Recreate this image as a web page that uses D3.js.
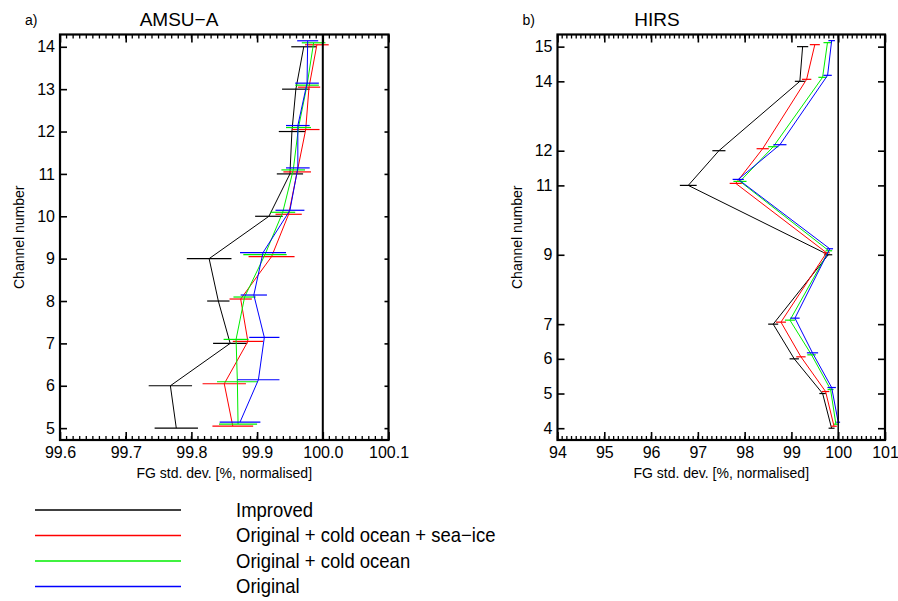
<!DOCTYPE html>
<html>
<head>
<meta charset="utf-8">
<script src="https://cdn.jsdelivr.net/npm/d3@7"></script>
<style>
  body { margin: 0; background: #fff; }
  svg { font-family: "Liberation Sans", Arial, sans-serif; }
</style>
</head>
<body>
<script>
// AMSU-A channels and FG std. dev. values (% normalised), with half-widths of error bars
var amsuChannels = [5, 6, 7, 8, 9, 10, 11, 12, 13, 14];
var amsuImproved    = [99.777, 99.768, 99.859, 99.841, 99.827, 99.918, 99.950, 99.953, 99.959, 99.971];
var amsuImprovedErr = [0.033, 0.033, 0.026, 0.017, 0.034, 0.021, 0.020, 0.020, 0.021, 0.019];
var amsuSeaIce      = [99.863, 99.850, 99.886, 99.875, 99.922, 99.948, 99.961, 99.974, 99.979, 99.991];
var amsuSeaIceErr   = [0.031, 0.033, 0.023, 0.017, 0.035, 0.020, 0.021, 0.021, 0.017, 0.018];
var amsuCold        = [99.871, 99.870, 99.868, 99.881, 99.912, 99.939, 99.955, 99.963, 99.976, 99.986];
var amsuColdErr     = [0.029, 0.031, 0.019, 0.017, 0.033, 0.019, 0.018, 0.019, 0.018, 0.018];
var amsuOriginal    = [99.874, 99.902, 99.911, 99.895, 99.909, 99.950, 99.962, 99.962, 99.976, 99.977];
var amsuOriginalErr = [0.031, 0.032, 0.023, 0.020, 0.035, 0.022, 0.018, 0.018, 0.018, 0.016];

// HIRS
var hirsChannels = [4, 5, 6, 7, 9, 11, 12, 14, 15];
var hirsImproved    = [99.858, 99.667, 99.06, 98.61, 99.787, 96.795, 97.45, 99.18, 99.239];
var hirsImprovedErr = [0.064, 0.07, 0.10, 0.107, 0.085, 0.18, 0.14, 0.107, 0.12];
var hirsSeaIce      = [99.91, 99.73, 99.203, 98.776, 99.75, 97.81, 98.385, 99.325, 99.50];
var hirsSeaIceErr   = [0.06, 0.08, 0.10, 0.107, 0.07, 0.13, 0.13, 0.10, 0.107];
var hirsCold        = [99.95, 99.837, 99.43, 98.968, 99.80, 97.90, 98.611, 99.666, 99.77];
var hirsColdErr     = [0.04, 0.064, 0.09, 0.107, 0.07, 0.14, 0.11, 0.09, 0.085];
var hirsOriginal    = [100.0, 99.86, 99.45, 99.075, 99.82, 97.863, 98.754, 99.773, 99.86];
var hirsOriginalErr = [0.04, 0.09, 0.12, 0.10, 0.07, 0.12, 0.14, 0.09, 0.07];

var seriesNames = ["Improved", "Original + cold ocean + sea\u2212ice", "Original + cold ocean", "Original"];
var seriesColors = ["#000000", "#ff0000", "#00ee00", "#0000ff"];
var seriesShift = [0, -2, -4, -6]; // small vertical offset in px so bars don't overlap

var amsuXTicks = [99.6, 99.7, 99.8, 99.9, 100.0, 100.1];
var hirsXTicks = [94, 95, 96, 97, 98, 99, 100, 101];

var svg = d3.select("body").append("svg")
    .attr("width", 898)
    .attr("height", 601);

function drawPanel(opt) {
  var x = d3.scaleLinear().domain(opt.xDomain).range([opt.left, opt.right]);
  var y = d3.scaleLinear().domain(opt.yDomain).range([opt.bottom, opt.top]);
  var g = svg.append("g");

  // data: lines then error bars
  opt.series.forEach(function(s, i) {
    var pts = opt.channels.map(function(c, j) { return {c: c, v: s.vals[j], e: s.errs[j]}; });
    var line = d3.line()
      .x(function(d) { return x(d.v); })
      .y(function(d) { return y(d.c) + seriesShift[i]; });
    g.append("path")
      .datum(pts)
      .attr("d", line)
      .attr("fill", "none")
      .attr("stroke", seriesColors[i])
      .attr("stroke-width", 1);
    g.selectAll(".err" + i)
      .data(pts)
      .enter().append("line")
      .attr("x1", function(d) { return x(d.v - d.e); })
      .attr("x2", function(d) { return x(d.v + d.e); })
      .attr("y1", function(d) { return y(d.c) + seriesShift[i]; })
      .attr("y2", function(d) { return y(d.c) + seriesShift[i]; })
      .attr("stroke", seriesColors[i])
      .attr("stroke-width", 1.2);
  });

  // reference line at 100 %
  g.append("line")
    .attr("x1", x(100)).attr("x2", x(100))
    .attr("y1", opt.top).attr("y2", opt.bottom)
    .attr("stroke", "#000")
    .attr("stroke-width", opt.refWidth);

  // minor x ticks
  var minor = d3.range(opt.xDomain[0], opt.xDomain[1] + opt.minorStep / 2, opt.minorStep);
  g.selectAll(".minb").data(minor).enter().append("line")
    .attr("x1", function(d) { return x(d); }).attr("x2", function(d) { return x(d); })
    .attr("y1", opt.bottom).attr("y2", opt.bottom - 4)
    .attr("stroke", "#000").attr("stroke-width", 1.3);
  g.selectAll(".mint").data(minor).enter().append("line")
    .attr("x1", function(d) { return x(d); }).attr("x2", function(d) { return x(d); })
    .attr("y1", opt.top).attr("y2", opt.top + 4)
    .attr("stroke", "#000").attr("stroke-width", 1.3);

  // major ticks via axes
  var xb = d3.axisBottom(x).tickValues(opt.xTicks).tickSize(-8).tickPadding(7)
    .tickFormat(opt.xFormat);
  var xa = g.append("g").attr("transform", "translate(0," + opt.bottom + ")").call(xb);
  var xt = d3.axisTop(x).tickValues(opt.xTicks).tickSize(-8).tickFormat("");
  var xa2 = g.append("g").attr("transform", "translate(0," + opt.top + ")").call(xt);

  var yl = d3.axisLeft(y).tickValues(opt.channels).tickSize(-7).tickPadding(5)
    .tickFormat(d3.format("d"));
  var ya = g.append("g").attr("transform", "translate(" + opt.left + ",0)").call(yl);
  var yr = d3.axisRight(y).tickValues(opt.channels).tickSize(-opt.rightTick).tickFormat("");
  var ya2 = g.append("g").attr("transform", "translate(" + opt.right + ",0)").call(yr);

  [xa, xa2, ya, ya2].forEach(function(a) {
    a.select(".domain").remove();
    a.selectAll(".tick line").attr("stroke", "#000").attr("stroke-width", 1.6);
    a.selectAll("text").attr("fill", "#000").attr("font-size", 16)
      .attr("font-family", "Liberation Sans, Arial, sans-serif");
  });

  // frame
  g.append("rect")
    .attr("x", opt.left).attr("y", opt.top)
    .attr("width", opt.right - opt.left).attr("height", opt.bottom - opt.top)
    .attr("fill", "none").attr("stroke", "#000").attr("stroke-width", 2.2);

  // labels
  g.append("text")
    .attr("x", (opt.left + opt.right) / 2).attr("y", 478)
    .attr("text-anchor", "middle").attr("font-size", 14)
    .text("FG std. dev. [%, normalised]");
  g.append("text")
    .attr("transform", "translate(" + (opt.left - 36) + "," + ((opt.top + opt.bottom) / 2) + ") rotate(-90)")
    .attr("text-anchor", "middle").attr("font-size", 14)
    .text("Channel number");
  g.append("text")
    .attr("x", opt.left - 35).attr("y", 25)
    .attr("font-size", 14)
    .text(opt.tag);
  g.append("text")
    .attr("x", opt.titleX).attr("y", 26)
    .attr("text-anchor", "middle").attr("font-size", 19)
    .text(opt.title);
}

drawPanel({
  left: 60, right: 388.5, top: 34.5, bottom: 440,
  xDomain: [99.6, 100.1], yDomain: [4.72, 14.29],
  xTicks: amsuXTicks, xFormat: d3.format(".1f"), minorStep: 0.01,
  channels: amsuChannels, rightTick: 4, refWidth: 2,
  tag: "a)", title: "AMSU\u2212A", titleX: 179,
  series: [
    {vals: amsuImproved, errs: amsuImprovedErr},
    {vals: amsuSeaIce, errs: amsuSeaIceErr},
    {vals: amsuCold, errs: amsuColdErr},
    {vals: amsuOriginal, errs: amsuOriginalErr}
  ]
});

drawPanel({
  left: 557.5, right: 885, top: 34.5, bottom: 440,
  xDomain: [94, 101], yDomain: [3.66, 15.35],
  xTicks: hirsXTicks, xFormat: d3.format("d"), minorStep: 0.1,
  channels: hirsChannels, rightTick: 7, refWidth: 1.5,
  tag: "b)", title: "HIRS", titleX: 657,
  series: [
    {vals: hirsImproved, errs: hirsImprovedErr},
    {vals: hirsSeaIce, errs: hirsSeaIceErr},
    {vals: hirsCold, errs: hirsColdErr},
    {vals: hirsOriginal, errs: hirsOriginalErr}
  ]
});

// legend
var legendY = d3.scalePoint().domain(seriesNames).range([510, 586.5]);
var leg = svg.append("g");
leg.selectAll("line").data(seriesNames).enter().append("line")
  .attr("x1", 35).attr("x2", 181)
  .attr("y1", function(d) { return legendY(d); })
  .attr("y2", function(d) { return legendY(d); })
  .attr("stroke", function(d, i) { return seriesColors[i]; })
  .attr("stroke-width", 1.3);
var legText = leg.append("g").attr("transform", "translate(236,0) scale(0.925,1)");
legText.selectAll("text").data(seriesNames).enter().append("text")
  .attr("x", 0)
  .attr("y", function(d) { return legendY(d) + 7; })
  .attr("font-size", 20)
  .text(function(d) { return d; });
</script>
</body>
</html>
